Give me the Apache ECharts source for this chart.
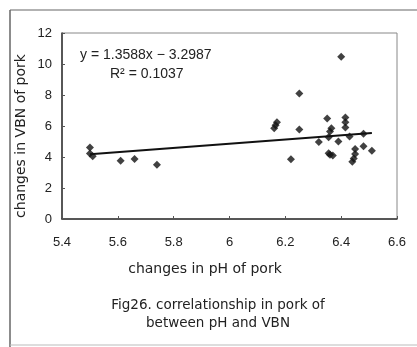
<!DOCTYPE html>
<html>
<head>
<meta charset="utf-8">
<script src="https://cdn.jsdelivr.net/npm/echarts@6/dist/echarts.min.js"></script>
<style>
  html, body { margin: 0; padding: 0; background: #fff; }
  #chart { width: 417px; height: 347px; }
</style>
</head>
<body>
<div id="chart"></div>
<script>
// pH vs VBN changes in pork samples
const phValues = [5.50, 5.50, 5.51, 5.61, 5.66, 5.74, 6.16, 6.165, 6.17, 6.22, 6.25, 6.25,
  6.32, 6.35, 6.355, 6.36, 6.355, 6.36, 6.37, 6.365, 6.39, 6.40, 6.415, 6.415, 6.415,
  6.43, 6.44, 6.445, 6.45, 6.45, 6.48, 6.48, 6.51];
const vbnValues = [4.62, 4.22, 4.05, 3.76, 3.87, 3.50, 5.86, 6.05, 6.25, 3.85, 5.77, 8.09,
  4.97, 6.48, 5.28, 5.65, 4.25, 4.15, 4.10, 5.85, 5.00, 10.46, 6.55, 6.25, 5.90,
  5.32, 3.70, 3.90, 4.20, 4.52, 5.50, 4.69, 4.41];

// linear trend fitted to the samples
const slope = 1.3588;
const intercept = -3.2987;
const rSquared = 0.1037;
const trendRange = [5.50, 6.51];

const xTicks = [5.4, 5.6, 5.8, 6, 6.2, 6.4, 6.6];
const yTicks = [0, 2, 4, 6, 8, 10, 12];

const xName = 'changes in pH of pork';
const yName = 'changes in VBN of pork';
const caption = 'Fig26. correlationship in pork of\nbetween pH and VBN';

const font = 'Liberation Sans, Arial, sans-serif';
const wideFont = 'DejaVu Sans, Verdana, sans-serif';
const ink = '#222';

const points = phValues.map((x, i) => [x, vbnValues[i]]);
const trend = trendRange.map(x => [x, slope * x + intercept]);

const chart = echarts.init(document.getElementById('chart'));
chart.setOption({
  animation: false,
  backgroundColor: '#fff',
  grid: {
    left: 62, right: 20, top: 33, bottom: 128,
    show: true, borderColor: '#888', borderWidth: 1
  },
  graphic: [
    { type: 'line', shape: { x1: 10, y1: 10, x2: 417, y2: 10 }, style: { stroke: '#999', lineWidth: 1.5 } },
    { type: 'line', shape: { x1: 10, y1: 10, x2: 10, y2: 347 }, style: { stroke: '#666', lineWidth: 1.5 } },
    { type: 'line', shape: { x1: 10, y1: 345, x2: 417, y2: 345 }, style: { stroke: '#bbb', lineWidth: 1 } },
    {
      type: 'text', left: 80, top: 48,
      style: { text: 'y = ' + slope + 'x \u2212 ' + Math.abs(intercept), font: '14px ' + font, fill: ink }
    },
    {
      type: 'text', left: 110, top: 67,
      style: { text: 'R\u00b2 = ' + rSquared, font: '14px ' + font, fill: ink }
    },
    {
      type: 'text', x: 205, y: 269,
      style: { text: xName, font: '14px ' + wideFont, fill: ink, align: 'center', verticalAlign: 'middle' }
    },
    {
      type: 'text', x: 21, y: 136, rotation: Math.PI / 2,
      style: { text: yName, font: '14px ' + wideFont, fill: ink, align: 'center', verticalAlign: 'middle' }
    },
    {
      type: 'text', x: 218, y: 296,
      style: {
        text: caption, font: '13.5px ' + wideFont, fill: ink, align: 'center', lineHeight: 18
      }
    }
  ],
  xAxis: {
    type: 'value', min: 5.4, max: 6.6, interval: 0.2,
    axisLine: { lineStyle: { color: '#333', width: 1.5 } },
    axisTick: { inside: true, length: 3, lineStyle: { color: '#555' } },
    splitLine: { show: false },
    axisLabel: {
      fontFamily: font, fontSize: 13, color: ink, margin: 17,
      formatter: v => {
        const t = xTicks.find(k => Math.abs(k - v) < 1e-6);
        return t === undefined ? '' : String(t);
      }
    }
  },
  yAxis: {
    type: 'value', min: 0, max: 12, interval: 2,
    axisLine: { show: true, lineStyle: { color: '#333', width: 1.5 } },
    axisTick: { show: true, inside: true, length: 3, lineStyle: { color: '#555' } },
    splitLine: { show: false },
    axisLabel: {
      fontFamily: font, fontSize: 13, color: ink, margin: 10,
      formatter: v => {
        const t = yTicks.find(k => Math.abs(k - v) < 1e-6);
        return t === undefined ? '' : String(t);
      }
    }
  },
  series: [
    {
      type: 'line', data: trend, symbol: 'none',
      lineStyle: { color: '#111', width: 2 }, z: 2
    },
    {
      type: 'scatter', data: points, symbol: 'diamond', symbolSize: 8,
      itemStyle: { color: '#111' }, z: 3
    }
  ]
});
</script>
</body>
</html>
